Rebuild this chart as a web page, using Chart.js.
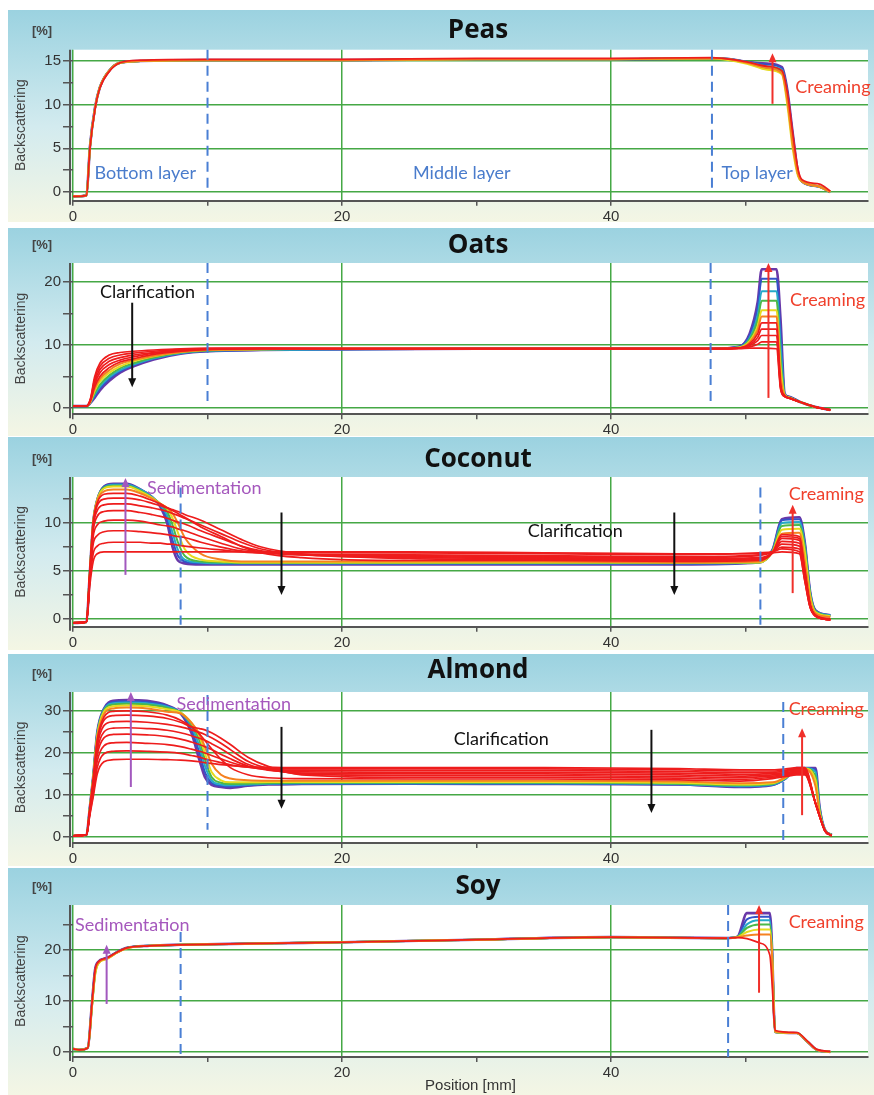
<!DOCTYPE html>
<html>
<head>
<meta charset="utf-8">
<script src="https://cdn.jsdelivr.net/npm/chart.js@4"></script>
<style>
body { margin: 0; width: 874px; height: 1095px; background: #fff; position: relative; overflow: hidden; }
.panel { position: absolute; left: 8px; width: 866px; overflow: hidden;
  background: linear-gradient(to bottom, #9bd2e0 0%, #b1dce6 22%, #d3ebef 55%, #f4f6e4 100%); }
.panel canvas { position: absolute; left: 0; top: 0; }
</style>
</head>
<body>
<div class="panel" id="p0" style="top:10px;height:212px"><canvas id="c0" width="866" height="230"></canvas></div>
<div class="panel" id="p1" style="top:228px;height:208px"><canvas id="c1" width="866" height="230"></canvas></div>
<div class="panel" id="p2" style="top:437px;height:213px"><canvas id="c2" width="866" height="230"></canvas></div>
<div class="panel" id="p3" style="top:654px;height:212px"><canvas id="c3" width="866" height="230"></canvas></div>
<div class="panel" id="p4" style="top:868px;height:227px"><canvas id="c4" width="866" height="227"></canvas></div>
<script>
var RED = '#ee1c1c', ORANGE = '#f58220', YELLOW = '#e6da1e', GREEN = '#4cb848',
    CYAN = '#25a9c8', BLUE = '#3352c8', PURPLE = '#6a38a8';

// Peas
var posPeas = [0, 1, 1.26, 1.64, 2, 2.75, 3.5, 5, 10, 20, 30, 40, 47.5, 48.3, 50.1, 51.6, 52.7, 53.1, 53.5, 53.9, 54.2, 55.5, 56.3];
var peasRed    = [-0.5, -0.4, 5.0, 9.5, 11.9, 13.9, 14.8, 15.1, 15.2, 15.2, 15.3, 15.3, 15.4, 15.3, 14.9, 14.4, 13.9, 11.5, 6.8, 2.6, 1.4, 0.9, 0.1];
var peasOrange = [-0.5, -0.4, 5.1, 9.6, 12.0, 14.0, 14.8, 15.0, 15.1, 15.1, 15.2, 15.2, 15.3, 15.3, 14.8, 14.2, 13.6, 10.5, 5.5, 2.0, 1.2, 0.6, 0.0];
var peasYellow = [-0.5, -0.4, 5.1, 9.6, 12.0, 14.0, 14.8, 15.0, 15.1, 15.1, 15.2, 15.2, 15.3, 15.2, 14.7, 14.0, 13.5, 10.0, 5.0, 1.8, 1.2, 0.6, 0.0];
var peasGreen  = [-0.5, -0.4, 5.1, 9.6, 12.0, 14.0, 14.8, 15.0, 15.1, 15.1, 15.2, 15.2, 15.3, 15.2, 14.8, 14.2, 13.8, 10.8, 5.8, 2.0, 1.2, 0.6, 0.0];
var peasCyan   = [-0.5, -0.4, 5.1, 9.6, 12.0, 14.0, 14.8, 15.0, 15.1, 15.1, 15.2, 15.2, 15.3, 15.3, 14.9, 14.4, 14.0, 11.2, 6.2, 2.1, 1.2, 0.6, 0.0];
var peasBlue   = [-0.5, -0.4, 5.2, 9.7, 12.0, 14.0, 14.8, 15.0, 15.1, 15.1, 15.2, 15.2, 15.3, 15.3, 14.9, 14.6, 14.2, 11.5, 6.5, 2.2, 1.2, 0.6, 0.0];
var peasPurple = [-0.5, -0.4, 5.2, 9.7, 12.0, 14.0, 14.8, 15.0, 15.1, 15.1, 15.2, 15.2, 15.3, 15.3, 14.9, 14.7, 14.3, 11.7, 6.8, 2.2, 1.2, 0.6, 0.0];

// Oats
var posOats = [0, 1, 1.3, 1.6, 2, 2.7, 3.5, 4.5, 6, 8, 10, 14, 20, 30, 40, 47.5, 49.5, 50.3, 50.9, 51.2, 52.3, 52.6, 52.9, 53.2, 54, 55.3, 56.3];
var oatsRed1   = [0.3, 0.3, 1.5, 4.9, 7.1, 8.4, 8.8, 9.0, 9.2, 9.4, 9.5, 9.5, 9.5, 9.5, 9.5, 9.5, 9.4, 9.5, 9.5, 9.5, 9.4, 3.0, 1.8, 1.6, 1.0, 0.1, -0.3];
var oatsRed2   = [0.3, 0.3, 1.4, 4.5, 6.6, 7.9, 8.4, 8.7, 9.0, 9.3, 9.4, 9.5, 9.4, 9.4, 9.4, 9.4, 9.5, 9.7, 10.1, 10.5, 10.5, 3.2, 1.8, 1.6, 1.0, 0.1, -0.3];
var oatsRed3   = [0.3, 0.3, 1.3, 4.1, 6.1, 7.4, 8.0, 8.4, 8.8, 9.2, 9.4, 9.4, 9.4, 9.4, 9.4, 9.4, 9.5, 9.9, 10.7, 11.5, 11.5, 3.4, 1.9, 1.6, 1.0, 0.1, -0.3];
var oatsRed4   = [0.3, 0.3, 1.2, 3.7, 5.6, 6.9, 7.6, 8.1, 8.7, 9.1, 9.3, 9.4, 9.4, 9.4, 9.4, 9.4, 9.5, 10.0, 11.2, 12.5, 12.5, 3.6, 1.9, 1.6, 1.0, 0.1, -0.3];
var oatsRed5   = [0.3, 0.3, 1.2, 3.3, 5.0, 6.4, 7.3, 7.8, 8.5, 9.0, 9.3, 9.4, 9.4, 9.4, 9.4, 9.4, 9.5, 10.2, 11.8, 13.5, 13.5, 3.8, 2.0, 1.6, 1.0, 0.1, -0.3];
var oatsOrange = [0.3, 0.3, 1.1, 3.0, 4.6, 6.0, 7.0, 7.6, 8.3, 8.9, 9.2, 9.3, 9.4, 9.4, 9.4, 9.4, 9.5, 10.4, 12.4, 14.5, 14.5, 5.0, 2.0, 1.6, 1.0, 0.1, -0.3];
var oatsYellow = [0.3, 0.3, 1.0, 2.7, 4.2, 5.6, 6.6, 7.4, 8.2, 8.9, 9.2, 9.3, 9.4, 9.4, 9.4, 9.4, 9.6, 10.6, 13.0, 15.5, 15.5, 6.5, 2.1, 1.7, 1.0, 0.1, -0.3];
var oatsGreen  = [0.3, 0.3, 1.0, 2.3, 3.7, 5.2, 6.3, 7.1, 8.0, 8.8, 9.1, 9.3, 9.4, 9.4, 9.4, 9.4, 9.6, 10.9, 13.9, 17.0, 17.0, 8.0, 2.1, 1.7, 1.0, 0.1, -0.3];
var oatsCyan   = [0.3, 0.3, 0.9, 2.1, 3.4, 4.9, 6.0, 6.9, 7.9, 8.7, 9.1, 9.2, 9.3, 9.4, 9.4, 9.4, 9.6, 11.1, 14.7, 18.5, 18.5, 10.0, 2.2, 1.7, 1.0, 0.1, -0.3];
var oatsBlue   = [0.3, 0.3, 0.9, 1.8, 3.1, 4.6, 5.8, 6.8, 7.8, 8.7, 9.0, 9.2, 9.3, 9.4, 9.4, 9.4, 9.7, 11.5, 15.9, 20.5, 20.5, 12.0, 2.2, 1.8, 1.0, 0.1, -0.3];
var oatsPurple = [0.3, 0.3, 0.8, 1.6, 2.8, 4.3, 5.6, 6.6, 7.7, 8.6, 9.0, 9.2, 9.3, 9.4, 9.4, 9.4, 9.7, 11.8, 16.8, 22.0, 22.0, 14.0, 2.3, 1.8, 1.0, 0.1, -0.3];

// Coconut
var posCoconut = [0, 1, 1.25, 1.5, 1.8, 2.3, 3, 4, 5, 5.8, 6.5, 7, 7.4, 7.8, 8.3, 9.5, 11, 12.5, 14, 17, 25, 35, 45, 51, 52, 52.7, 54, 54.4, 54.8, 55.2, 56.3];
var coconutRed1   = [-0.4, -0.3, 3.5, 6.0, 6.8, 7.0, 7.0, 7.0, 7.0, 7.0, 7.0, 7.0, 7.0, 7.0, 7.0, 7.0, 7.0, 7.0, 7.0, 7.0, 7.0, 6.9, 6.8, 6.8, 6.9, 7.0, 6.8, 4.0, 1.2, 0.3, -0.1];
var coconutRed2   = [-0.4, -0.3, 4.0, 6.8, 7.6, 7.9, 8.0, 8.0, 8.0, 7.9, 7.9, 7.8, 7.8, 7.7, 7.6, 7.4, 7.2, 7.0, 6.9, 6.9, 6.9, 6.8, 6.7, 6.9, 7.0, 7.3, 7.0, 4.0, 1.2, 0.3, -0.1];
var coconutRed3   = [-0.4, -0.3, 4.3, 7.8, 8.7, 9.1, 9.2, 9.2, 9.1, 9.0, 8.9, 8.8, 8.7, 8.6, 8.5, 8.0, 7.5, 7.1, 6.9, 6.7, 6.7, 6.6, 6.5, 6.7, 7.0, 7.5, 7.3, 4.2, 1.3, 0.3, -0.1];
var coconutRed4   = [-0.4, -0.3, 4.5, 8.6, 9.8, 10.2, 10.3, 10.3, 10.2, 10.0, 9.8, 9.7, 9.6, 9.4, 9.2, 8.6, 7.9, 7.3, 7.0, 6.7, 6.6, 6.5, 6.4, 6.6, 7.0, 7.8, 7.6, 4.4, 1.3, 0.3, -0.1];
var coconutRed5   = [-0.4, -0.3, 4.6, 9.2, 10.7, 11.2, 11.3, 11.3, 11.1, 10.9, 10.7, 10.5, 10.3, 10.1, 9.9, 9.2, 8.4, 7.6, 7.1, 6.7, 6.5, 6.4, 6.3, 6.4, 6.9, 8.1, 7.9, 4.6, 1.4, 0.3, -0.1];
var coconutRed6   = [-0.4, -0.3, 4.7, 9.6, 11.3, 11.9, 12.0, 12.0, 11.8, 11.6, 11.4, 11.2, 11.0, 10.8, 10.5, 9.8, 8.9, 8.0, 7.3, 6.7, 6.4, 6.3, 6.2, 6.3, 6.9, 8.4, 8.2, 4.8, 1.4, 0.4, -0.1];
var coconutRed7   = [-0.4, -0.3, 4.7, 9.8, 11.8, 12.5, 12.6, 12.6, 12.4, 12.1, 11.8, 11.6, 11.4, 11.2, 10.9, 10.3, 9.3, 8.3, 7.5, 6.8, 6.3, 6.2, 6.1, 6.2, 6.9, 8.6, 8.4, 5.0, 1.5, 0.4, 0.0];
var coconutRed8   = [-0.4, -0.3, 4.8, 10.0, 12.1, 13.0, 13.1, 13.1, 12.8, 12.4, 12.0, 11.6, 11.3, 11.0, 10.6, 9.6, 8.6, 7.6, 6.9, 6.4, 6.1, 6.1, 6.0, 6.1, 6.9, 8.8, 8.6, 5.2, 1.5, 0.4, 0.0];
var coconutOrange = [-0.4, -0.3, 4.8, 10.0, 12.3, 13.3, 13.5, 13.5, 13.1, 12.6, 12.0, 11.6, 11.0, 10.0, 8.5, 6.8, 6.2, 6.0, 6.0, 6.0, 6.0, 6.0, 5.9, 6.0, 7.0, 8.9, 9.0, 6.0, 2.0, 0.6, 0.2];
var coconutYellow = [-0.4, -0.3, 4.8, 10.0, 12.4, 13.6, 13.8, 13.8, 13.3, 12.7, 12.0, 11.5, 10.5, 9.0, 7.3, 6.2, 6.0, 5.9, 5.9, 5.9, 5.9, 5.9, 5.9, 5.9, 7.0, 9.3, 9.4, 7.0, 2.4, 0.7, 0.3];
var coconutGreen  = [-0.4, -0.3, 4.8, 10.0, 12.4, 13.7, 13.9, 13.9, 13.4, 12.7, 12.0, 11.2, 9.8, 8.0, 6.6, 6.0, 5.9, 5.85, 5.85, 5.85, 5.85, 5.85, 5.85, 5.9, 7.1, 9.7, 9.8, 7.5, 2.6, 0.8, 0.3];
var coconutCyan   = [-0.4, -0.3, 4.8, 10.0, 12.4, 13.7, 14.0, 14.0, 13.5, 12.8, 11.9, 10.8, 9.0, 7.2, 6.2, 5.9, 5.8, 5.8, 5.8, 5.8, 5.8, 5.8, 5.8, 5.9, 7.1, 10.0, 10.1, 7.7, 2.7, 0.8, 0.4];
var coconutBlue   = [-0.4, -0.3, 4.8, 10.0, 12.4, 13.8, 14.05, 14.05, 13.5, 12.8, 11.8, 10.4, 8.2, 6.6, 6.0, 5.8, 5.75, 5.75, 5.75, 5.75, 5.75, 5.75, 5.75, 5.9, 7.2, 10.3, 10.4, 7.9, 2.8, 0.9, 0.4];
var coconutPurple = [-0.4, -0.3, 4.8, 10.0, 12.4, 13.8, 14.1, 14.1, 13.5, 12.8, 11.7, 10.0, 7.5, 6.1, 5.8, 5.7, 5.7, 5.7, 5.7, 5.7, 5.7, 5.7, 5.7, 5.9, 7.2, 10.4, 10.6, 8.0, 2.8, 0.9, 0.4];

// Almond
var posAlmond = [0, 1, 1.25, 1.5, 1.8, 2.3, 3, 4, 5.5, 7, 8, 8.8, 9.4, 9.8, 10.3, 11, 11.7, 13, 14.5, 17, 25, 35, 45, 49.6, 52, 53, 53.8, 54.4, 55.2, 55.5, 55.9, 56.4];
var almondRed1   = [0.3, 0.5, 5.2, 9.5, 15.0, 17.9, 18.4, 18.5, 18.5, 18.4, 18.3, 18.1, 17.9, 17.7, 17.5, 17.2, 17.0, 16.7, 16.6, 16.5, 16.5, 16.5, 16.3, 16.0, 16.0, 16.2, 16.5, 16.5, 8.0, 5.0, 1.5, 0.3];
var almondRed2   = [0.3, 0.5, 5.5, 10.2, 16.5, 19.8, 20.4, 20.5, 20.4, 20.2, 19.9, 19.4, 19.0, 18.6, 18.2, 17.7, 17.2, 16.6, 16.3, 16.2, 16.2, 16.2, 16.0, 15.7, 15.7, 15.9, 16.2, 16.2, 8.0, 5.0, 1.5, 0.3];
var almondRed3   = [0.3, 0.5, 5.8, 11.0, 18.0, 21.7, 22.4, 22.5, 22.3, 22.0, 21.5, 20.9, 20.4, 20.0, 19.4, 18.6, 17.8, 16.7, 16.1, 15.9, 15.8, 15.8, 15.6, 15.3, 15.4, 15.6, 15.9, 15.9, 8.0, 5.0, 1.5, 0.3];
var almondRed4   = [0.3, 0.5, 6.0, 11.8, 19.5, 23.6, 24.4, 24.5, 24.3, 23.9, 23.3, 22.6, 22.0, 21.5, 20.8, 19.7, 18.6, 16.9, 15.9, 15.5, 15.4, 15.4, 15.2, 14.9, 15.1, 15.3, 15.6, 15.6, 8.0, 5.0, 1.5, 0.3];
var almondRed5   = [0.3, 0.5, 6.2, 12.3, 20.5, 25.0, 25.9, 26.0, 25.8, 25.4, 24.8, 24.1, 23.5, 23.0, 22.2, 21.0, 19.6, 17.3, 16.0, 15.2, 15.0, 15.0, 14.8, 14.5, 14.8, 15.0, 15.4, 15.4, 8.0, 5.0, 1.5, 0.3];
var almondRed6   = [0.3, 0.5, 6.3, 12.8, 21.5, 26.5, 27.4, 27.5, 27.3, 26.8, 26.2, 25.5, 24.9, 24.4, 23.6, 22.3, 20.8, 18.0, 16.3, 15.0, 14.6, 14.6, 14.4, 14.1, 14.5, 14.8, 15.2, 15.2, 8.0, 5.0, 1.5, 0.3];
var almondRed7   = [0.3, 0.5, 6.4, 13.2, 22.5, 27.8, 28.9, 29.0, 28.8, 28.2, 27.3, 26.2, 25.8, 25.5, 24.8, 23.5, 22.0, 19.0, 16.8, 14.8, 14.2, 14.2, 14.0, 13.7, 14.2, 14.6, 15.0, 15.0, 8.0, 5.0, 1.5, 0.3];
var almondRed8   = [0.3, 0.5, 6.5, 13.5, 23.0, 28.5, 29.9, 30.0, 29.8, 29.0, 27.8, 26.2, 24.5, 23.0, 21.0, 18.5, 16.5, 14.8, 14.1, 13.9, 13.8, 13.8, 13.6, 13.3, 13.9, 14.4, 14.8, 14.8, 8.0, 5.0, 1.5, 0.3];
var almondOrange = [0.3, 0.5, 6.6, 13.8, 23.5, 29.2, 30.6, 30.8, 30.6, 29.8, 29.4, 27.2, 24.5, 21.5, 17.5, 14.8, 13.9, 13.5, 13.4, 13.4, 13.4, 13.4, 13.2, 12.8, 13.0, 14.3, 16.0, 16.2, 12.0, 5.5, 1.5, 0.4];
var almondYellow = [0.3, 0.5, 6.7, 14.0, 24.0, 29.8, 31.1, 31.3, 31.1, 30.4, 29.6, 27.2, 24.0, 20.0, 15.5, 13.5, 13.0, 13.0, 13.1, 13.1, 13.1, 13.1, 12.9, 12.5, 12.8, 14.2, 16.1, 16.3, 13.5, 6.0, 1.6, 0.4];
var almondGreen  = [0.3, 0.5, 6.8, 14.1, 24.3, 30.1, 31.5, 31.7, 31.5, 30.7, 29.6, 26.8, 23.0, 18.5, 14.3, 12.9, 12.6, 12.7, 12.8, 12.9, 12.9, 12.9, 12.7, 12.3, 12.6, 14.1, 16.2, 16.3, 14.5, 6.5, 1.6, 0.5];
var almondCyan   = [0.3, 0.5, 6.9, 14.2, 24.5, 30.3, 31.8, 32.0, 31.8, 31.0, 29.6, 26.3, 21.5, 17.0, 13.5, 12.5, 12.3, 12.5, 12.7, 12.8, 12.8, 12.8, 12.6, 12.1, 12.5, 14.0, 16.3, 16.4, 15.5, 6.8, 1.7, 0.5];
var almondBlue   = [0.3, 0.5, 7.0, 14.3, 24.7, 30.4, 32.1, 32.3, 32.1, 31.2, 29.5, 25.6, 20.0, 15.5, 12.9, 12.2, 12.0, 12.3, 12.6, 12.7, 12.7, 12.7, 12.5, 12.0, 12.4, 14.0, 16.4, 16.4, 16.0, 7.0, 1.7, 0.5];
var almondPurple = [0.3, 0.5, 7.0, 14.3, 24.8, 30.5, 32.4, 32.6, 32.4, 31.3, 29.4, 24.8, 18.3, 14.3, 12.4, 11.9, 11.7, 12.2, 12.5, 12.6, 12.7, 12.6, 12.5, 11.9, 12.4, 14.0, 16.4, 16.4, 16.4, 7.1, 1.7, 0.5];

// Soy
var posSoy = [0, 0.5, 1.1, 1.41, 1.64, 1.86, 2.5, 3.3, 4, 5.7, 8, 15, 20, 30, 40, 48.5, 49.4, 50.1, 51, 51.8, 52, 52.1, 52.2, 53.8, 54.6, 55.3, 56.3];
var soyRed    = [0.6, 0.4, 0.8, 9.5, 16.0, 17.6, 18.4, 19.6, 20.4, 20.8, 21.0, 21.3, 21.5, 22.0, 22.5, 22.3, 22.4, 22.2, 21.4, 19.0, 12.0, 7.0, 4.2, 3.8, 2.1, 0.5, 0.1];
var soyOrange = [0.6, 0.4, 0.8, 9.2, 15.6, 17.4, 18.3, 19.5, 20.3, 20.8, 21.0, 21.3, 21.5, 22.0, 22.5, 22.3, 22.5, 22.8, 23.0, 23.0, 17.0, 8.0, 4.0, 3.7, 2.0, 0.4, 0.0];
var soyYellow = [0.6, 0.4, 0.8, 8.8, 15.0, 17.2, 18.2, 19.5, 20.3, 20.8, 21.0, 21.3, 21.5, 22.0, 22.5, 22.3, 22.5, 23.5, 24.0, 24.0, 17.5, 8.1, 3.9, 3.7, 2.0, 0.4, 0.0];
var soyGreen  = [0.6, 0.4, 0.8, 9.0, 15.2, 17.3, 18.3, 19.5, 20.4, 20.8, 21.0, 21.3, 21.5, 22.0, 22.5, 22.3, 22.6, 24.3, 25.0, 25.0, 17.5, 8.1, 3.9, 3.7, 2.0, 0.4, 0.0];
var soyCyan   = [0.6, 0.4, 0.8, 9.2, 15.5, 17.4, 18.3, 19.6, 20.4, 20.8, 21.0, 21.3, 21.5, 22.0, 22.5, 22.3, 22.6, 25.0, 25.8, 25.8, 17.6, 8.2, 3.9, 3.7, 2.0, 0.4, 0.0];
var soyBlue   = [0.6, 0.4, 0.8, 9.4, 15.8, 17.5, 18.4, 19.6, 20.4, 20.8, 21.0, 21.3, 21.5, 22.0, 22.5, 22.3, 22.6, 26.0, 26.5, 26.5, 17.8, 8.2, 3.9, 3.7, 2.0, 0.4, 0.0];
var soyPurple = [0.6, 0.4, 0.8, 9.6, 16.1, 17.6, 18.4, 19.6, 20.4, 20.8, 21.0, 21.3, 21.5, 22.0, 22.5, 22.3, 22.6, 27.2, 27.2, 27.2, 18.0, 8.2, 3.9, 3.7, 2.0, 0.4, 0.0];

var xTicks = [0, 20, 40];

function serie(xs, ys, color, width) {
  return {
    data: xs.map(function (x, i) { return { x: x, y: ys[i] }; }),
    borderColor: color, borderWidth: width, pointRadius: 0, fill: false,
    cubicInterpolationMode: 'monotone'
  };
}

function rainbow(xs, reds, rest) {
  var cols = [ORANGE, YELLOW, GREEN, CYAN, BLUE, PURPLE];
  var out = reds.map(function (r) { return serie(xs, r, RED, 1.7); });
  rest.forEach(function (r, i) { out.push(serie(xs, r, cols[i], i == 5 ? 2.6 : 2)); });
  return out;
}

var notas = {
  id: 'notas',
  beforeDraw: function (chart) {
    var a = chart.chartArea, ctx = chart.ctx;
    ctx.save();
    ctx.fillStyle = '#fff';
    ctx.fillRect(a.left, a.top, a.right - a.left, a.bottom - a.top);
    ctx.restore();
  },
  afterDatasetsDraw: function (chart) {
    var o = chart.options.plugins.notas;
    var ctx = chart.ctx, a = chart.chartArea, sx = chart.scales.x, sy = chart.scales.y;
    ctx.save();
    ctx.strokeStyle = '#555'; ctx.lineWidth = 2;
    ctx.beginPath(); ctx.moveTo(a.left - 3, a.top); ctx.lineTo(a.left - 3, a.bottom + 4); ctx.stroke();

    ctx.strokeStyle = '#4a7fd4'; ctx.lineWidth = 2; ctx.setLineDash([10, 6]);
    o.dashes.forEach(function (d) {
      var px = sx.getPixelForValue(d.x);
      ctx.beginPath(); ctx.moveTo(px, sy.getPixelForValue(d.from)); ctx.lineTo(px, sy.getPixelForValue(d.to)); ctx.stroke();
    });
    ctx.setLineDash([]);

    o.arrows.forEach(function (f) {
      var px = sx.getPixelForValue(f.x), y1 = sy.getPixelForValue(f.from), y2 = sy.getPixelForValue(f.to);
      var dir = y2 < y1 ? -1 : 1;
      ctx.strokeStyle = f.color; ctx.fillStyle = f.color; ctx.lineWidth = 2;
      ctx.beginPath(); ctx.moveTo(px, y1); ctx.lineTo(px, y2 - dir * 7); ctx.stroke();
      ctx.beginPath(); ctx.moveTo(px, y2); ctx.lineTo(px - 4, y2 - dir * 9); ctx.lineTo(px + 4, y2 - dir * 9); ctx.closePath(); ctx.fill();
    });

    ctx.font = '18px Lato, "Open Sans", sans-serif';
    ctx.textBaseline = 'middle';
    o.texts.forEach(function (t) {
      ctx.fillStyle = t.color;
      ctx.textAlign = t.align || 'left';
      ctx.fillText(t.text, sx.getPixelForValue(t.x), sy.getPixelForValue(t.y));
    });

    ctx.fillStyle = '#111'; ctx.textAlign = 'center';
    ctx.font = 'bold 26px "Open Sans", sans-serif';
    ctx.fillText(o.title, (a.left + a.right) / 2 + 7.5, a.top - o.titleOff);
    ctx.fillStyle = '#444';
    ctx.font = 'bold 13px "Liberation Sans", Arial, sans-serif';
    ctx.fillText('[%]', a.left - 31, a.top - 18);
    ctx.restore();
  }
};

var GREEN_GRID = '#45a845';
var BLUE_TXT = '#4a7ccc', RED_TXT = '#f0402c', PURPLE_TXT = '#a558bd', RED_ARROW = '#f0302a', PURPLE_ARROW = '#a258be';

function grafico(id, p) {
  var top = p.top;
  var chTop = p.chartTop - top, chBottom = p.chartBottom - top;
  var xh = p.xTitle ? 38 : 24;
  var canvas = document.getElementById(id);
  new Chart(canvas, {
    type: 'line',
    data: { datasets: p.datasets },
    plugins: [notas],
    options: {
      responsive: false, animation: false,
      layout: { padding: { left: 0, right: 6, top: chTop, bottom: canvas.height - chBottom - xh } },
      plugins: {
        legend: { display: false }, tooltip: { enabled: false },
        notas: { title: p.title, titleOff: p.titleOff, dashes: p.dashes, arrows: p.arrows, texts: p.texts }
      },
      scales: {
        x: {
          type: 'linear', min: 0, max: 59.1,
          afterFit: function (s) { s.height = xh; },
          ticks: {
            stepSize: 10, includeBounds: false, maxRotation: 0, autoSkip: false, padding: 2,
            color: '#333', font: { size: 15, family: '"Liberation Sans", Arial, sans-serif' },
            callback: function (v) { return xTicks.indexOf(v) >= 0 ? String(v) : ''; }
          },
          grid: {
            color: function (c) { return c.tick && xTicks.indexOf(c.tick.value) >= 0 ? GREEN_GRID : 'rgba(0,0,0,0)'; },
            lineWidth: 1.5, tickColor: '#555', tickLength: 5
          },
          border: { display: true, color: '#555', width: 2 },
          title: p.xTitle ? { display: true, text: p.xTitle, color: '#333', padding: { top: 0, bottom: 0 },
                              font: { size: 15, family: '"Liberation Sans", Arial, sans-serif' } } : { display: false }
        },
        y: {
          type: 'linear', min: p.ymin, max: p.ymax,
          afterFit: function (s) { s.width = 65; },
          ticks: {
            stepSize: p.step, includeBounds: false, padding: 2, color: '#333',
            font: { size: 15, family: '"Liberation Sans", Arial, sans-serif' },
            callback: function (v) { return v % p.major === 0 ? String(v) : ''; }
          },
          grid: {
            color: function (c) { return c.tick && c.tick.value % p.major === 0 ? GREEN_GRID : 'rgba(0,0,0,0)'; },
            lineWidth: 1.5, tickColor: '#555', tickLength: 10
          },
          border: { display: false },
          title: { display: true, text: 'Backscattering', color: '#444', padding: { top: 5, bottom: 4 },
                   font: { size: 14, family: '"Liberation Sans", Arial, sans-serif' } }
        }
      }
    }
  });
}

grafico('c0', {
  top: 10, chartTop: 49.7, chartBottom: 200.7, ymin: -1, ymax: 16.3, step: 2.5, major: 5,
  title: 'Peas', titleOff: 18.7,
  datasets: rainbow(posPeas, [peasRed], [peasOrange, peasYellow, peasGreen, peasCyan, peasBlue, peasPurple]),
  dashes: [{ x: 10, from: 16.3, to: 0.2 }, { x: 47.5, from: 16.3, to: 0.2 }],
  arrows: [{ x: 52.0, from: 10.1, to: 15.9, color: RED_ARROW }],
  texts: [
    { text: 'Bottom layer', x: 1.6, y: 2.2, color: BLUE_TXT },
    { text: 'Middle layer', x: 28.9, y: 2.2, color: BLUE_TXT, align: 'center' },
    { text: 'Top layer', x: 48.2, y: 2.2, color: BLUE_TXT },
    { text: 'Creaming', x: 53.7, y: 12.0, color: RED_TXT }
  ]
});

grafico('c1', {
  top: 228, chartTop: 263, chartBottom: 414.3, ymin: -1, ymax: 23, step: 5, major: 10,
  title: 'Oats', titleOff: 17,
  datasets: rainbow(posOats, [oatsRed1, oatsRed2, oatsRed3, oatsRed4, oatsRed5],
    [oatsOrange, oatsYellow, oatsGreen, oatsCyan, oatsBlue, oatsPurple]),
  dashes: [{ x: 10, from: 23, to: 0.8 }, { x: 47.4, from: 23, to: 0.8 }],
  arrows: [{ x: 4.4, from: 16.7, to: 3.3, color: '#111' }, { x: 51.7, from: 1.6, to: 23.0, color: RED_ARROW }],
  texts: [
    { text: 'Clarification', x: 2.0, y: 18.4, color: '#111' },
    { text: 'Creaming', x: 53.3, y: 17.1, color: RED_TXT }
  ]
});

grafico('c2', {
  top: 437, chartTop: 477, chartBottom: 626.7, ymin: -0.8, ymax: 14.8, step: 2.5, major: 5,
  title: 'Coconut', titleOff: 17,
  datasets: rainbow(posCoconut, [coconutRed1, coconutRed2, coconutRed3, coconutRed4, coconutRed5, coconutRed6, coconutRed7, coconutRed8],
    [coconutOrange, coconutYellow, coconutGreen, coconutCyan, coconutBlue, coconutPurple]),
  dashes: [{ x: 8.0, from: 13.7, to: -0.6 }, { x: 51.1, from: 13.7, to: -0.6 }],
  arrows: [
    { x: 3.9, from: 4.6, to: 14.7, color: PURPLE_ARROW },
    { x: 15.5, from: 11.1, to: 2.5, color: '#111' },
    { x: 44.7, from: 11.1, to: 2.5, color: '#111' },
    { x: 53.5, from: 2.7, to: 11.9, color: RED_ARROW }
  ],
  texts: [
    { text: 'Sedimentation', x: 5.5, y: 13.6, color: PURPLE_TXT },
    { text: 'Clarification', x: 33.8, y: 9.2, color: '#111' },
    { text: 'Creaming', x: 53.2, y: 13.0, color: RED_TXT }
  ]
});

grafico('c3', {
  top: 654, chartTop: 692, chartBottom: 842.9, ymin: -1.4, ymax: 34.5, step: 5, major: 10,
  title: 'Almond', titleOff: 21,
  datasets: rainbow(posAlmond, [almondRed1, almondRed2, almondRed3, almondRed4, almondRed5, almondRed6, almondRed7, almondRed8],
    [almondOrange, almondYellow, almondGreen, almondCyan, almondBlue, almondPurple]),
  dashes: [{ x: 10, from: 33.8, to: 1.7 }, { x: 52.8, from: 32.1, to: -1.4 }],
  arrows: [
    { x: 4.3, from: 11.9, to: 34.5, color: PURPLE_ARROW },
    { x: 15.5, from: 26.2, to: 6.7, color: '#111' },
    { x: 43.0, from: 25.5, to: 5.7, color: '#111' },
    { x: 54.2, from: 5.2, to: 25.9, color: RED_ARROW }
  ],
  texts: [
    { text: 'Sedimentation', x: 7.7, y: 31.7, color: PURPLE_TXT },
    { text: 'Clarification', x: 28.3, y: 23.3, color: '#111' },
    { text: 'Creaming', x: 53.2, y: 30.5, color: RED_TXT }
  ]
});

grafico('c4', {
  top: 868, chartTop: 905, chartBottom: 1057, ymin: -1, ymax: 28.8, step: 5, major: 10,
  title: 'Soy', titleOff: 18, xTitle: 'Position [mm]',
  datasets: rainbow(posSoy, [soyRed], [soyOrange, soyYellow, soyGreen, soyCyan, soyBlue, soyPurple]),
  dashes: [{ x: 8.0, from: 23.5, to: -1 }, { x: 48.7, from: 28.8, to: -1 }],
  arrows: [{ x: 2.5, from: 9.4, to: 21.0, color: PURPLE_ARROW }, { x: 51.0, from: 11.6, to: 28.8, color: RED_ARROW }],
  texts: [
    { text: 'Sedimentation', x: 0.15, y: 24.9, color: PURPLE_TXT },
    { text: 'Creaming', x: 53.2, y: 25.5, color: RED_TXT }
  ]
});
</script>
</body>
</html>
